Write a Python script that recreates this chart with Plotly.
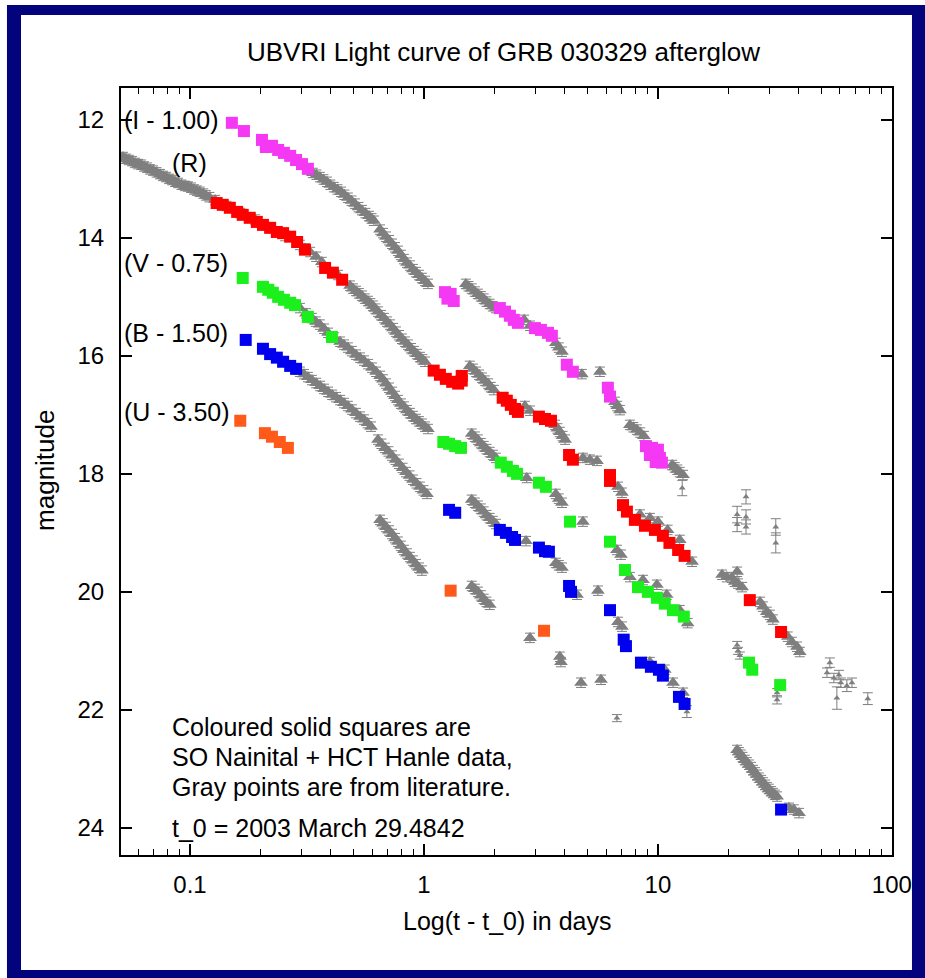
import plotly.graph_objects as go

# ---------------------------------------------------------------
# Literature photometry (gray): days since t_0, magnitude (band offsets applied)
# ---------------------------------------------------------------
lit_I_t = [0.335, 0.347, 0.359, 0.372, 0.385, 0.398, 0.412, 0.427, 0.442, 0.457, 0.473,
           0.490, 0.507, 0.525, 0.543, 0.562, 0.582, 0.597, 0.611,
           0.649, 0.668, 0.688, 0.709, 0.730, 0.752, 0.774, 0.797, 0.821, 0.846, 0.871,
           0.897, 0.924, 0.952, 0.980, 1.01, 1.04,
           1.51, 1.55, 1.60, 1.65, 1.70, 1.75, 1.80, 1.85, 1.91, 1.97, 2.03,
           2.68, 2.84, 3.66, 3.77, 3.89,
           4.73, 5.65, 6.55, 6.70, 6.88, 7.59, 7.85, 8.13, 8.40, 8.71, 11.5, 11.8, 12.1, 12.4, 12.8]
lit_I_mag = [12.90, 12.93, 12.97, 13.01, 13.05, 13.10, 13.14, 13.18, 13.22, 13.27, 13.32,
             13.37, 13.42, 13.48, 13.53, 13.58, 13.63, 13.67, 13.71,
             13.86, 13.92, 13.98, 14.04, 14.10, 14.16, 14.22, 14.29, 14.36, 14.42, 14.47,
             14.53, 14.58, 14.63, 14.68, 14.73, 14.78,
             14.78, 14.82, 14.86, 14.91, 14.95, 14.99, 15.03, 15.08, 15.12, 15.16, 15.19,
             15.39, 15.49, 15.78, 15.86, 15.93,
             16.31, 16.27, 16.78, 16.85, 16.92, 17.17, 17.21, 17.25, 17.30, 17.36, 17.85, 17.89, 17.93, 17.97, 18.02]

lit_R_t = [0.0517, 0.0532, 0.0548, 0.0565, 0.0582, 0.0600, 0.0618, 0.0636, 0.0655, 0.0675,
           0.0695, 0.0719, 0.0744, 0.0767, 0.0790, 0.0814, 0.0838, 0.0863, 0.0889, 0.0920,
           0.0952, 0.0980, 0.101, 0.104, 0.107, 0.110, 0.114, 0.117, 0.121, 0.128, 0.143,
           0.164, 0.190, 0.220, 0.255, 0.295, 0.310, 0.326, 0.346, 0.366, 0.429,
           0.483, 0.497, 0.512, 0.527, 0.543, 0.559, 0.576, 0.590, 0.605, 0.620, 0.636,
           0.655, 0.675, 0.695, 0.716, 0.737, 0.759, 0.782, 0.805, 0.829, 0.854, 0.880,
           0.906, 0.933, 0.961, 0.985, 1.01,
           1.57, 1.62, 1.67, 1.72, 1.77, 1.82, 1.88, 1.93, 1.99, 2.70, 2.84, 3.63, 3.72,
           3.81, 3.91, 4.01,
           4.78, 5.12, 5.49, 6.75, 7.02, 8.38, 9.24, 10.0, 11.0, 12.4, 14.0,
           18.8, 19.7, 20.7, 21.3, 22.0, 22.9, 21.8, 27.3, 28.1, 29.2, 30.1, 31.0,
           35.9, 37.4, 39.3, 40.4]
lit_R_mag = [12.63, 12.66, 12.68, 12.70, 12.73, 12.75, 12.76, 12.79, 12.81, 12.84,
             12.86, 12.89, 12.92, 12.95, 12.97, 13.00, 13.02, 13.05, 13.07, 13.10,
             13.12, 13.13, 13.15, 13.18, 13.20, 13.22, 13.25, 13.28, 13.31, 13.36, 13.46,
             13.58, 13.69, 13.83, 13.97, 14.12, 14.18, 14.24, 14.32, 14.41, 14.63,
             14.81, 14.86, 14.90, 14.94, 14.98, 15.03, 15.07, 15.11, 15.15, 15.20, 15.25,
             15.31, 15.36, 15.42, 15.47, 15.53, 15.59, 15.65, 15.71, 15.76, 15.81, 15.87,
             15.92, 15.97, 16.02, 16.06, 16.10,
             16.17, 16.22, 16.27, 16.32, 16.37, 16.42, 16.47, 16.53, 16.58, 16.85, 16.93, 17.17, 17.23,
             17.29, 17.36, 17.42,
             17.73, 17.76, 17.78, 18.22, 18.32, 18.69, 18.75, 18.81, 18.95, 19.12, 19.49,
             19.71, 19.75, 19.76, 19.83, 19.86, 19.92, 19.66, 20.17, 20.25, 20.34, 20.39, 20.47,
             20.76, 20.85, 20.93, 21.02]

lit_V_t = [0.295, 0.313, 0.332, 0.345, 0.359, 0.374, 0.389, 0.413, 0.438, 0.455, 0.473,
           0.492, 0.512, 0.533, 0.554, 0.577, 0.600, 0.624, 0.649, 0.668,
           0.688, 0.709, 0.730, 0.752, 0.774, 0.797, 0.821, 0.846, 0.871, 0.897, 0.924,
           0.952, 0.980, 1.01, 1.04,
           1.60, 1.65, 1.70, 1.75, 1.80, 1.85, 1.91, 1.97, 2.03, 2.75, 3.66, 3.77, 3.89, 4.78,
           6.68, 6.95, 7.59, 8.63, 9.90, 10.9, 12.4, 13.4]
lit_V_mag = [15.19, 15.28, 15.36, 15.42, 15.47, 15.54, 15.61, 15.69, 15.76, 15.81, 15.86,
             15.92, 15.98, 16.03, 16.08, 16.14, 16.20, 16.27, 16.34, 16.40,
             16.47, 16.54, 16.61, 16.68, 16.75, 16.81, 16.86, 16.92, 16.97, 17.02, 17.07,
             17.11, 17.15, 17.20, 17.24,
             17.32, 17.37, 17.42, 17.48, 17.53, 17.58, 17.63, 17.68, 17.73, 18.07, 18.34, 18.42, 18.49, 18.81,
             19.29, 19.37, 19.75, 19.80, 19.88, 20.05, 20.31, 20.53]

lit_B_t = [0.295, 0.307, 0.319, 0.332, 0.346, 0.360, 0.374, 0.389, 0.405, 0.421, 0.438,
           0.455, 0.473, 0.492, 0.512, 0.533, 0.554, 0.574, 0.594,
           0.636, 0.658, 0.681, 0.705, 0.730, 0.756, 0.782, 0.810, 0.838, 0.867, 0.897,
           0.929, 0.961, 0.995, 1.03,
           1.60, 1.65, 1.70, 1.75, 1.80, 1.85, 1.91, 1.97, 2.03, 2.73, 3.66, 3.77, 3.89, 4.51, 5.54,
           6.75, 7.02, 9.24, 10.7, 11.6, 12.8,
           21.8, 22.2, 22.6, 23.0, 23.5, 24.0, 24.5, 25.0, 25.5, 26.0, 26.5, 27.0, 27.6,
           28.1, 28.7, 29.2, 29.8, 30.4, 31.0, 31.6, 32.3,
           36.3, 38.1, 40.1]
lit_B_mag = [16.27, 16.31, 16.36, 16.41, 16.46, 16.51, 16.56, 16.61, 16.66, 16.70, 16.75,
             16.80, 16.85, 16.91, 16.97, 17.03, 17.08, 17.14, 17.20,
             17.42, 17.49, 17.56, 17.62, 17.69, 17.76, 17.83, 17.90, 17.97, 18.03, 18.10,
             18.16, 18.22, 18.28, 18.34,
             18.44, 18.49, 18.54, 18.59, 18.64, 18.70, 18.75, 18.80, 18.85, 19.14, 19.51, 19.55, 19.59, 20.05, 19.98,
             20.51, 20.59, 21.19, 21.32, 21.54, 21.71,
             22.68, 22.72, 22.76, 22.80, 22.85, 22.89, 22.93, 22.97, 23.02, 23.06, 23.10, 23.15, 23.19,
             23.23, 23.27, 23.31, 23.34, 23.38, 23.41, 23.44, 23.47,
             23.66, 23.69, 23.75]

lit_U_t = [0.649, 0.668, 0.688, 0.709, 0.730, 0.752, 0.774, 0.797, 0.821, 0.846, 0.871,
           0.897, 0.924, 0.952, 0.980,
           1.60, 1.65, 1.70, 1.75, 1.80, 1.85, 1.91, 2.84, 3.81, 3.85, 4.69, 5.71]
lit_U_mag = [18.78, 18.84, 18.90, 18.96, 19.02, 19.09, 19.15, 19.22, 19.29, 19.35, 19.41,
             19.47, 19.53, 19.59, 19.64,
             19.90, 19.95, 20.00, 20.06, 20.12, 20.17, 20.22, 20.78, 21.10, 21.19, 21.54, 21.49]

# Sparse late-time literature points with individual errors
lit_sparse_t = [23.8, 21.8, 23.8, 21.8, 23.8, 31.9, 31.9,
                54.3, 52.8, 56.5, 59.4, 60.5, 64.2, 67.5, 58.2, 78.9,
                21.8, 22.0, 22.4, 32.3, 32.3,
                12.7, 13.3, 6.68]
lit_sparse_mag = [18.39, 18.69, 18.73, 18.86, 18.90, 18.90, 19.17,
                  21.20, 21.37, 21.46, 21.41, 21.54, 21.59, 21.54, 21.80, 21.81,
                  20.90, 21.00, 21.08, 21.71, 21.83,
                  18.24, 22.03, 22.14]
lit_sparse_err = [0.12, 0.14, 0.12, 0.12, 0.12, 0.14, 0.17,
                  0.08, 0.08, 0.08, 0.08, 0.08, 0.10, 0.08, 0.19, 0.10,
                  0.06, 0.06, 0.06, 0.07, 0.07,
                  0.13, 0.10, 0.06]

# ---------------------------------------------------------------
# ARIES (Nainital) + HCT (Hanle) photometry: coloured squares
# ---------------------------------------------------------------
I_t = [0.151, 0.170, 0.203, 0.211, 0.224, 0.238, 0.252, 0.268, 0.284, 0.301, 0.319,
       1.23, 1.30, 1.26, 1.34, 2.11, 2.22, 2.33, 2.42, 2.52, 2.98, 3.16, 3.39, 3.52,
       4.08, 4.33, 6.11, 6.24, 8.89, 9.43, 10.0, 9.24, 10.2, 9.78, 10.4]
I_mag = [12.05, 12.19, 12.34, 12.46, 12.44, 12.51, 12.56, 12.61, 12.68, 12.75, 12.83,
         14.92, 14.95, 15.03, 15.07, 15.19, 15.25, 15.32, 15.39, 15.44, 15.53, 15.56, 15.61, 15.66,
         16.15, 16.27, 16.54, 16.69, 17.53, 17.56, 17.59, 17.68, 17.73, 17.80, 17.81]

R_t = [0.130, 0.138, 0.148, 0.159, 0.168, 0.180, 0.193, 0.205, 0.220, 0.235, 0.250,
       0.268, 0.287, 0.310, 0.378, 0.408, 0.447,
       1.10, 1.17, 1.24, 1.32, 1.40, 1.45, 1.45,
       2.17, 2.26, 2.35, 2.45, 2.52, 3.10, 3.29, 3.49, 4.17, 4.33, 6.24, 6.24,
       7.09, 7.37, 7.97, 8.80, 9.71, 10.5, 11.2, 12.2, 13.0, 24.7, 33.6]
R_mag = [13.41, 13.44, 13.49, 13.56, 13.61, 13.66, 13.73, 13.78, 13.83, 13.90, 13.92,
         13.98, 14.07, 14.20, 14.51, 14.59, 14.71,
         16.25, 16.32, 16.39, 16.44, 16.47, 16.42, 16.34,
         16.71, 16.76, 16.83, 16.90, 16.95, 17.03, 17.07, 17.10, 17.68, 17.76, 18.02, 18.12,
         18.53, 18.64, 18.78, 18.88, 18.95, 19.05, 19.17, 19.29, 19.39, 20.14, 20.68]

V_t = [0.168, 0.205, 0.216, 0.226, 0.238, 0.252, 0.268, 0.281, 0.319, 0.404,
       1.21, 1.28, 1.36, 1.44, 2.13, 2.26, 2.40, 2.50, 3.10, 3.32, 4.21, 6.24,
       7.23, 8.22, 9.06, 9.90, 10.7, 11.6, 12.9, 24.5, 25.3, 33.3]
V_mag = [14.68, 14.83, 14.88, 14.93, 15.00, 15.05, 15.10, 15.14, 15.34, 15.68,
         17.46, 17.49, 17.53, 17.56, 17.81, 17.88, 17.95, 18.00, 18.15, 18.22, 18.81, 19.15,
         19.63, 19.92, 20.00, 20.10, 20.20, 20.31, 20.42, 21.20, 21.32, 21.58]

B_t = [0.173, 0.205, 0.220, 0.235, 0.250, 0.268, 0.284,
       1.28, 1.36, 2.11, 2.24, 2.38, 2.45, 3.10, 3.29, 3.42, 4.17, 4.25, 6.24,
       7.14, 7.30, 8.46, 9.33, 10.1, 10.5, 12.3, 13.0, 33.6]
B_mag = [15.73, 15.88, 15.97, 16.03, 16.10, 16.17, 16.22,
         18.61, 18.66, 18.95, 19.00, 19.07, 19.12, 19.25, 19.31, 19.32, 19.90, 20.00, 20.31,
         20.81, 20.92, 21.20, 21.27, 21.32, 21.42, 21.78, 21.90, 23.69]

U_t = [0.164, 0.209, 0.224, 0.242, 0.262, 1.30, 3.26]
U_mag = [17.10, 17.31, 17.37, 17.46, 17.56, 19.98, 20.66]

band_labels = ["(I - 1.00)", "(R)", "(V - 0.75)", "(B - 1.50)", "(U - 3.50)"]
label_mag = [12.0, 12.73, 14.42, 15.61, 16.95]
x_ticks = [0.1, 1, 10, 100]
y_ticks = [12, 14, 16, 18, 20, 22, 24]

GRAY = "#7f7f7f"
FONT = "Liberation Sans, Arial, sans-serif"
NAVY = "#03037e"

fig = go.Figure()

# gray literature strips
for t, m in [(lit_I_t, lit_I_mag), (lit_R_t, lit_R_mag), (lit_V_t, lit_V_mag),
             (lit_B_t, lit_B_mag), (lit_U_t, lit_U_mag)]:
    fig.add_trace(go.Scatter(
        x=t, y=m, mode="markers",
        marker=dict(symbol="triangle-up", size=12, color=GRAY, line=dict(width=0)),
        error_y=dict(type="constant", value=0.08, color=GRAY, thickness=1, width=5),
        showlegend=False, hoverinfo="x+y"))

fig.add_trace(go.Scatter(
    x=lit_sparse_t, y=lit_sparse_mag, mode="markers",
    marker=dict(symbol="triangle-up", size=6, color=GRAY),
    error_y=dict(type="data", array=lit_sparse_err, color=GRAY, thickness=1, width=5),
    showlegend=False))

# coloured squares
for t, m, c in [(I_t, I_mag, "#f438f4"), (R_t, R_mag, "#ff0000"), (V_t, V_mag, "#1cf01c"),
                (B_t, B_mag, "#0000ee"), (U_t, U_mag, "#ff5a1a")]:
    fig.add_trace(go.Scatter(
        x=t, y=m, mode="markers",
        marker=dict(symbol="square", size=12, color=c, line=dict(width=0)),
        showlegend=False))

annotations = []
for lab, ym in zip(band_labels, label_mag):
    xl = -1.085 if lab == "(R)" else -1.29
    annotations.append(dict(x=xl, y=ym, xref="x", yref="y", text=lab, showarrow=False,
                            xanchor="left", yanchor="middle",
                            font=dict(family=FONT, size=25, color="black")))

note_lines = ["Coloured solid squares are", "SO Nainital + HCT Hanle data,",
              "Gray points are from literature.", "t_0 = 2003 March 29.4842"]
note_mag = [22.29, 22.80, 23.31, 24.0]
for txt, ym in zip(note_lines, note_mag):
    annotations.append(dict(x=-1.085, y=ym, xref="x", yref="y", text=txt, showarrow=False,
                            xanchor="left", yanchor="middle",
                            font=dict(family=FONT, size=25, color="black")))

annotations += [
    dict(x=0.4955, y=1.0469, xref="paper", yref="paper", showarrow=False,
         text="UBVRI Light curve of GRB 030329 afterglow", xanchor="center", yanchor="middle",
         font=dict(family=FONT, size=26, color="black")),
    dict(x=0.5, y=-0.0861, xref="paper", yref="paper", showarrow=False,
         text="Log(t - t_0) in days", xanchor="center", yanchor="middle",
         font=dict(family=FONT, size=25, color="black")),
    dict(x=-0.0986, y=0.502, xref="paper", yref="paper", showarrow=False,
         text="magnitude", textangle=-90, xanchor="center", yanchor="middle",
         font=dict(family=FONT, size=26, color="black")),
]

minor_x = [0.06, 0.07, 0.08, 0.09, 0.2, 0.3, 0.4, 0.5, 0.6, 0.7, 0.8, 0.9,
           2, 3, 4, 5, 6, 7, 8, 9, 20, 30, 40, 50, 60, 70, 80, 90]

fig.update_layout(
    width=925, height=978,
    margin=dict(l=121, r=33, t=88, b=123),
    paper_bgcolor="white", plot_bgcolor="white",
    showlegend=False,
    annotations=annotations,
    shapes=[
        dict(type="rect", xref="paper", yref="paper", x0=-0.1479, x1=1.06, y0=-0.18, y1=1.1082,
             fillcolor=NAVY, line=dict(width=0), layer="below"),
        dict(type="rect", xref="paper", yref="paper", x0=-0.1297, x1=1.0259, y0=-0.1499, y1=1.0952,
             fillcolor="white", line=dict(width=0), layer="below"),
    ],
    xaxis=dict(type="log", range=[-1.295, 2.0005], showgrid=False, zeroline=False,
               showline=True, linecolor="black", linewidth=2, mirror="ticks",
               ticks="inside", ticklen=11, tickwidth=1.5, tickcolor="black",
               tickvals=x_ticks, ticktext=["0.1", "1", "10", "100"],
               tickfont=dict(family=FONT, size=24, color="black"),
               ticklabelstandoff=7,
               minor=dict(ticks="inside", ticklen=6, tickwidth=1.2, tickcolor="black",
                          tickvals=minor_x, showgrid=False)),
    yaxis=dict(range=[24.46, 11.46], showgrid=False, zeroline=False,
               showline=True, linecolor="black", linewidth=2, mirror="ticks",
               ticks="inside", ticklen=11, tickwidth=1.5, tickcolor="black",
               tickvals=y_ticks, tickfont=dict(family=FONT, size=24, color="black"),
               ticklabelstandoff=10),
)

fig.write_html("out.html")
